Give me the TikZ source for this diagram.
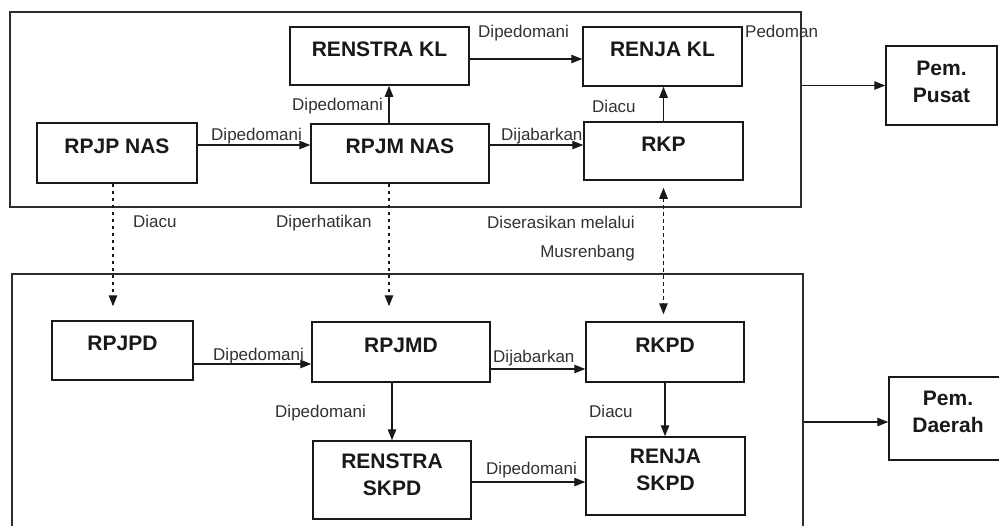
\documentclass[tikz,border=0pt]{standalone}
\usepackage{fontspec}
\setmainfont{Liberation Sans}
\usetikzlibrary{arrows.meta,calc}
\definecolor{ink}{RGB}{25,25,25}
\definecolor{lblgray}{RGB}{50,50,50}
\definecolor{linegray}{RGB}{45,45,45}
\tikzset{
  tip/.tip={Triangle[length=11pt,width=8.5pt]},
  box/.style={draw=ink, line width=1.5pt, inner sep=0pt, text=ink,
    font=\fontsize{21}{27}\selectfont\bfseries},
  panel/.style={draw=linegray, line width=1.1pt, inner sep=0pt},
  lbl/.style={anchor=base west, inner sep=0pt, text=lblgray,
    font=\fontsize{17}{20}\selectfont},
  arr/.style={draw=ink, line width=1.1pt, -tip},
  darr/.style={draw=ink, line width=1.4pt, dash pattern=on 3.5pt off 3.5pt, -tip},
  ddarr/.style={draw=ink, line width=1.4pt, dash pattern=on 3.5pt off 3.5pt, tip-tip}
}
\newcommand{\twoline}[2]{\begin{tabular}[b]{@{}c@{}}#1\\#2\end{tabular}}
\begin{document}
\begin{tikzpicture}[x=1pt,y=-1pt]
\useasboundingbox (0,0) rectangle (999,525);
\clip (0,0) rectangle (999,525);
\fill[white] (0,0) rectangle (999,525);
% panels
\node[panel, minimum width=791pt, minimum height=195pt] (toppanel) at (405.5,109.5) {};
\node[panel, minimum width=791pt, minimum height=266pt] (botpanel) at (407.5,407) {};
% top boxes
\node[box, minimum width=160pt, text height=30pt, text depth=30pt] (rpjp) at (117,153) {RPJP NAS};
\node[box, minimum width=179pt, text height=29pt, text depth=29pt] (renstrakl) at (379.5,56) {RENSTRA KL};
\node[box, minimum width=178pt, text height=29.5pt, text depth=29.5pt] (rpjm) at (400,153.5) {RPJM NAS};
\node[box, minimum width=159pt, text height=29.5pt, text depth=29.5pt] (renjakl) at (662.5,56.5) {RENJA KL};
\node[box, minimum width=159pt, text height=29pt, text depth=29pt] (rkp) at (663.5,151) {RKP};
\node[box, minimum width=111pt, text height=56pt, text depth=23pt, anchor=base] (pusat) at (941.5,102) {\twoline{Pem.}{Pusat}};
% bottom boxes
\node[box, minimum width=141pt, text height=29.5pt, text depth=29.5pt] (rpjpd) at (122.5,350.5) {RPJPD};
\node[box, minimum width=178pt, text height=30pt, text depth=30pt] (rpjmd) at (401,352) {RPJMD};
\node[box, minimum width=158pt, text height=30pt, text depth=30pt] (rkpd) at (665,352) {RKPD};
\node[box, minimum width=158pt, text height=54pt, text depth=24pt, anchor=base] (renstraskpd) at (392,495) {\twoline{RENSTRA}{SKPD}};
\node[box, minimum width=159pt, text height=53pt, text depth=25pt, anchor=base] (renjaskpd) at (665.5,490) {\twoline{RENJA}{SKPD}};
\node[box, minimum width=118pt, text height=55pt, text depth=28pt, anchor=base] (daerah) at (948,432) {\twoline{Pem.}{Daerah}};
% top connectors
\draw[arr] ([yshift=8pt]rpjp.east) -- ([yshift=8pt]rpjp.east -| rpjm.west);
\draw[arr] ([yshift=8.5pt]rpjm.east) -- ([yshift=8.5pt]rpjm.east -| rkp.west);
\draw[arr] ([xshift=-11pt]rpjm.north) -- ([xshift=-11pt]rpjm.north |- renstrakl.south);
\draw[arr] ([yshift=-3pt]renstrakl.east) -- ([yshift=-3pt]renstrakl.east -| renjakl.west);
\draw[arr] (rkp.north) -- (rkp.north |- renjakl.south);
\draw[arr] (toppanel.east |- pusat.west) -- (pusat.west);
% vertical dashed
\draw[darr, shorten >=14pt] ([xshift=-4pt]rpjp.south) -- ([xshift=-4pt]rpjp.south |- rpjpd.north);
\draw[darr, shorten >=15pt] ([xshift=-11pt]rpjm.south) -- ([xshift=-11pt]rpjm.south |- rpjmd.north);
\draw[ddarr, shorten <=7pt, shorten >=7pt] (rkp.south) -- (rkp.south |- rkpd.north);
% bottom connectors
\draw[arr] ([yshift=-13.5pt]rpjpd.east) -- ([yshift=-13.5pt]rpjpd.east -| rpjmd.west);
\draw[arr] ([yshift=-17pt]rpjmd.east) -- ([yshift=-17pt]rpjmd.east -| rkpd.west);
\draw[arr] (renstraskpd.north |- rpjmd.south) -- (renstraskpd.north);
\draw[arr] (rkpd.south) -- (rkpd.south |- renjaskpd.north);
\draw[arr] ([yshift=-2pt]renstraskpd.east) -- ([yshift=-2pt]renstraskpd.east -| renjaskpd.west);
\draw[arr] ([yshift=-3.5pt]botpanel.east |- daerah.west) -- ([yshift=-3.5pt]daerah.west);
% labels
\node[lbl] (l1) at (478,37) {Dipedomani};
\node[lbl] (l2) at (745,37) {Pedoman};
\node[lbl] (l3) at (292,110) {Dipedomani};
\node[lbl] (l4) at (592,112) {Diacu};
\node[lbl] (l5) at (211,140) {Dipedomani};
\node[lbl] (l6) at (501,140) {Dijabarkan};
\node[lbl] (l7) at (133,227) {Diacu};
\node[lbl] (l8) at (276,227) {Diperhatikan};
\node[lbl] (l9) at (487,228) {Diserasikan melalui};
\node[lbl, anchor=base east] (l10) at (635,257) {Musrenbang};
\node[lbl] (l11) at (213,360) {Dipedomani};
\node[lbl] (l12) at (493,362) {Dijabarkan};
\node[lbl] (l13) at (275,417) {Dipedomani};
\node[lbl] (l14) at (589,417) {Diacu};
\node[lbl] (l15) at (486,474) {Dipedomani};
\end{tikzpicture}
\end{document}
